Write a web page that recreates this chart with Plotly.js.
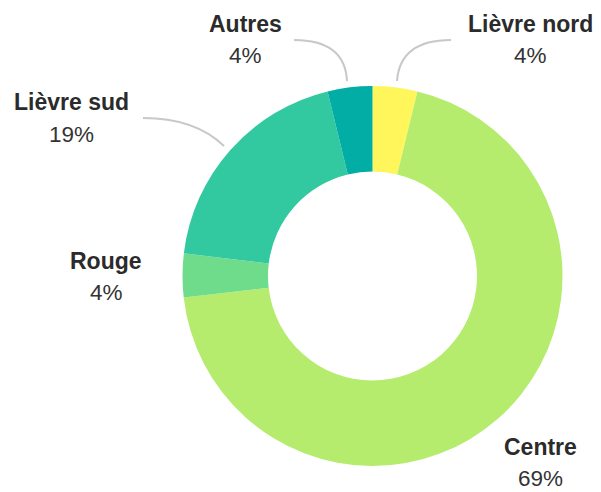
<!DOCTYPE html>
<html>
<head>
<meta charset="utf-8">
<script src="https://cdn.plot.ly/plotly-3.0.1.min.js"></script>
<style>html,body{margin:0;padding:0;background:#fff;}#chart{width:601px;height:492px;}</style>
</head>
<body>
<div id="chart"></div>
<script>
var labels = ["Lièvre nord", "Centre", "Rouge", "Lièvre sud", "Autres"];
var values = [3.8, 69.4, 3.7, 19.3, 3.8];
var colors = ["#fff65c", "#b5ec6e", "#6fdc8c", "#33c9a0", "#02ada6"];

var W = 601, H = 492;
function px(x) { return x / W; }
function py(y) { return 1 - y / H; }

var total = values.reduce(function (a, b) { return a + b; }, 0);
var pct = values.map(function (v) { return Math.round(v / total * 100) + "%"; });

// label anchor positions (pixels): center x, name line y, percent line y
var labelPos = [
  [530, 24, 55],
  [540, 447, 478],
  [106, 261, 292],
  [71, 102, 134],
  [245, 24, 55]
];

var annotations = [];
labels.forEach(function (l, i) {
  var p = labelPos[i];
  annotations.push({
    xref: "paper", yref: "paper", x: px(p[0]), y: py(p[1]),
    xanchor: "center", yanchor: "middle", showarrow: false,
    text: "<b>" + l + "</b>",
    font: {family: "Liberation Sans, Arial, sans-serif", size: 23, color: "#2b2b2b"}
  });
  annotations.push({
    xref: "paper", yref: "paper", x: px(p[0]), y: py(p[2]),
    xanchor: "center", yanchor: "middle", showarrow: false,
    text: pct[i],
    font: {family: "Liberation Sans, Arial, sans-serif", size: 22.5, color: "#333333"}
  });
});

function curve(x0, y0, cx, cy, x1, y1) {
  return {
    type: "path", xref: "paper", yref: "paper",
    path: "M " + px(x0) + "," + py(y0) + " Q " + px(cx) + "," + py(cy) + " " + px(x1) + "," + py(y1),
    line: {color: "#c8c8c8", width: 2}
  };
}

var shapes = [
  curve(294, 40, 345, 40, 347, 81),
  curve(451, 40, 400, 40, 397, 81),
  curve(143, 118, 195, 118, 224, 146)
];

var cx = 372.5, cy = 276, r = 190;
var trace = {
  type: "pie",
  labels: labels,
  values: values,
  sort: false,
  direction: "clockwise",
  rotation: 0,
  hole: 0.55,
  marker: {colors: colors, line: {width: 0}},
  textinfo: "none",
  hoverinfo: "label+percent",
  showlegend: false,
  domain: {x: [px(cx - r), px(cx + r)], y: [py(cy + r), py(cy - r)]}
};

var layout = {
  width: W, height: H,
  margin: {l: 0, r: 0, t: 0, b: 0},
  paper_bgcolor: "#ffffff",
  plot_bgcolor: "#ffffff",
  showlegend: false,
  annotations: annotations,
  shapes: shapes
};

Plotly.newPlot("chart", [trace], layout, {displayModeBar: false, staticPlot: true});
</script>
</body>
</html>
